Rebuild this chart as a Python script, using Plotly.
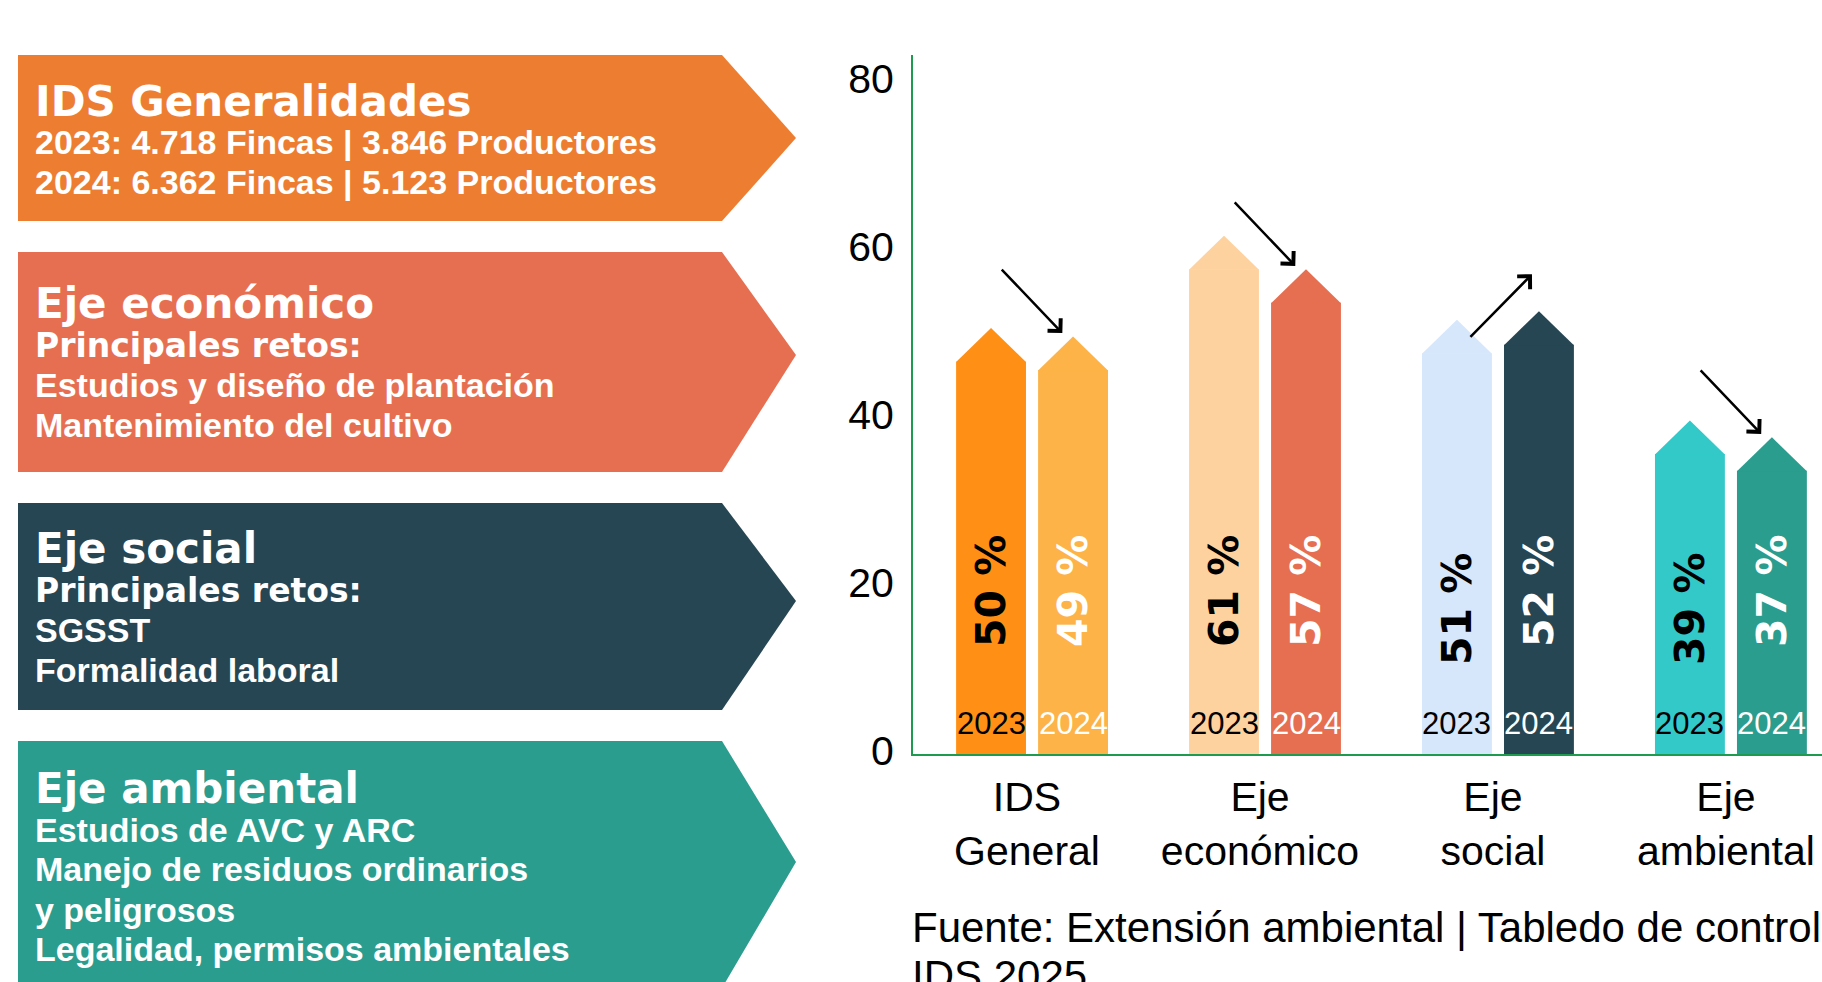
import plotly.graph_objects as go

# ---------------- data ----------------
categorias = ["IDS<br>General", "Eje<br>económico", "Eje<br>social", "Eje<br>ambiental"]
anios = ["2023", "2024"]
valores_2023 = [50, 61, 51, 39]
valores_2024 = [49, 57, 52, 37]
ticks_y = [0, 20, 40, 60, 80]

titulos = ["IDS Generalidades", "Eje económico", "Eje social", "Eje ambiental"]
lineas = [
    ["2023: 4.718 Fincas | 3.846 Productores", "2024: 6.362 Fincas | 5.123 Productores"],
    ["Principales retos:", "Estudios y diseño de plantación", "Mantenimiento del cultivo"],
    ["Principales retos:", "SGSST", "Formalidad laboral"],
    ["Estudios de AVC y ARC", "Manejo de residuos ordinarios", "y peligrosos",
     "Legalidad, permisos ambientales"],
]
fuente = ["Fuente: Extensión ambiental | Tabledo de control", "IDS 2025"]

# ---------------- style / layout ----------------
W, H = 1822, 982
PL, PR, PT, PB = 913, 1822, 55, 754
Y_MAX = 83.2
X_MIN, X_MAX = -0.511, 3.391
BAR_W = 0.30
OFFS = [-0.176, 0.176]
TIP_H = 4.0
TIP_OVER = 0.7

col_2023 = ["#FF8F15", "#FDD29F", "#D6E6FB", "#33C9C9"]
col_2024 = ["#FDB347", "#E76F51", "#264653", "#2A9D8F"]
txt_col = ["black", "white"]
pct_shift_2023 = [0, 0, -18, -18]
GREEN = "#1E9B4E"

box_cols = ["#ED7D31", "#E76F51", "#264653", "#2A9D8F"]
box_geom = [(55, 221, 138), (252, 472, 355), (503, 710, 601), (741, 988, 862)]
BOX_L, BOX_R, BOX_TIP = 18, 722, 796
title_y = [101, 303, 548, 788]
line_y = [[142, 182], [345, 385, 425], [590, 630, 670], [830, 869, 910, 949]]
TEXT_X = 33

SANS = "Liberation Sans, Arial, sans-serif"
HEAVY = "DejaVu Sans, Verdana, sans-serif"


def px_x(p):
    return (p - PL) / (PR - PL)


def px_y(p):
    return (PB - p) / (PB - PT)


fig = go.Figure()
annotations = []
shapes = []

series = [valores_2023, valores_2024]
colors = [col_2023, col_2024]
for k in range(2):
    for i, v in enumerate(series[k]):
        xc = i + OFFS[k]
        col = colors[k][i]
        top = v + TIP_OVER
        shoulder = top - TIP_H
        fig.add_trace(go.Bar(x=[xc], y=[shoulder], width=BAR_W, marker=dict(color=col, line=dict(width=0)),
                             showlegend=False, hoverinfo="skip"))
        fig.add_trace(go.Scatter(x=[xc - BAR_W / 2, xc, xc + BAR_W / 2, xc - BAR_W / 2],
                                 y=[shoulder - 0.05, top, shoulder - 0.05, shoulder - 0.05],
                                 fill="toself", fillcolor=col, mode="lines",
                                 line=dict(width=0, color=col), showlegend=False, hoverinfo="skip"))
        # percentage label (rotated)
        annotations.append(dict(x=xc, y=19.4, xref="x", yref="y", text=f"<b>{v} %</b>",
                                textangle=-90, showarrow=False,
                                yshift=(pct_shift_2023[i] if k == 0 else 0),
                                font=dict(family=HEAVY, size=41, color=txt_col[k])))
        # year label
        annotations.append(dict(x=xc, y=3.63, xref="x", yref="y", text=anios[k], showarrow=False,
                                font=dict(family=SANS, size=31, color=txt_col[k])))

# trend arrows
for i in range(4):
    a, b = valores_2023[i], valores_2024[i]
    if b < a:
        annotations.append(dict(x=i + 0.13, y=b + 1.1, xref="x", yref="y", ax=-62, ay=-65,
                                text="", showarrow=True, arrowhead=4, arrowsize=1.4,
                                arrowwidth=2.5, arrowcolor="black", standoff=0))
    else:
        annotations.append(dict(x=i + 0.146, y=b + 5.1, xref="x", yref="y", ax=-63, ay=64,
                                text="", showarrow=True, arrowhead=4, arrowsize=1.4,
                                arrowwidth=2.5, arrowcolor="black", standoff=0))

# left chevron boxes
for j in range(4):
    t, btm, ty = box_geom[j]
    path = (f"M{px_x(BOX_L)},{px_y(t)} L{px_x(BOX_R)},{px_y(t)} L{px_x(BOX_TIP)},{px_y(ty)} "
            f"L{px_x(BOX_R)},{px_y(btm)} L{px_x(BOX_L)},{px_y(btm)} Z")
    shapes.append(dict(type="path", path=path, xref="paper", yref="paper",
                       fillcolor=box_cols[j], line=dict(width=0), layer="above"))
    annotations.append(dict(x=px_x(TEXT_X), y=px_y(title_y[j]), xref="paper", yref="paper",
                            xanchor="left", yanchor="middle", showarrow=False,
                            text=f"<b>{titulos[j]}</b>",
                            font=dict(family=HEAVY, size=42, color="white")))
    for s, yy in zip(lineas[j], line_y[j]):
        heavy = s.startswith("Principales")
        annotations.append(dict(x=px_x(TEXT_X), y=px_y(yy), xref="paper", yref="paper",
                                xanchor="left", yanchor="middle", showarrow=False,
                                text=f"<b>{s}</b>",
                                font=dict(family=HEAVY if heavy else SANS,
                                          size=33 if heavy else 34, color="white")))

# source text
for s, yy in zip(fuente, [927, 975]):
    annotations.append(dict(x=-0.003, y=px_y(yy), xref="paper", yref="paper", xanchor="left",
                            yanchor="middle", showarrow=False, text=s,
                            font=dict(family=SANS, size=42, color="black")))

fig.update_layout(
    template="none",
    width=W, height=H,
    margin=dict(l=PL, r=W - PR, t=PT, b=H - PB, pad=0),
    paper_bgcolor="white", plot_bgcolor="white",
    barmode="overlay",
    showlegend=False,
    annotations=annotations,
    shapes=shapes,
    xaxis=dict(range=[X_MIN, X_MAX], tickvals=list(range(4)), ticktext=categorias,
               showline=True, linecolor=GREEN, linewidth=2, showgrid=False, zeroline=False,
               ticks="", tickfont=dict(family=SANS, size=41, color="black"),
               automargin=False, ticklabelstandoff=6, ticklabelshift=-5, fixedrange=True),
    yaxis=dict(range=[0, Y_MAX], tickvals=ticks_y, showline=True, linecolor=GREEN, linewidth=2,
               showgrid=False, zeroline=False, ticks="",
               tickfont=dict(family=SANS, size=41, color="black"),
               automargin=False, ticklabelstandoff=9, ticklabelshift=-3, fixedrange=True),
)

fig.write_html("out.html")
